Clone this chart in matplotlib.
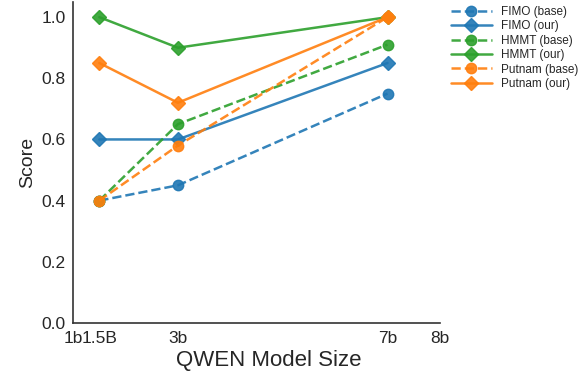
import matplotlib
matplotlib.use("Agg")
import matplotlib.pyplot as plt
import seaborn as sns

# model sizes (numeric positions on the x axis)
sizes = [1.5, 3, 7]
tick_pos = [1, 1.5, 3, 7, 8]
tick_labels = ["1b", "1.5B", "3b", "7b", "8b"]

fimo_base = [0.40, 0.45, 0.75]
fimo_our = [0.60, 0.60, 0.85]
hmmt_base = [0.40, 0.65, 0.91]
hmmt_our = [1.00, 0.90, 1.00]
putnam_base = [0.40, 0.58, 1.00]
putnam_our = [0.85, 0.72, 1.00]

sns.set_style("white")
plt.rcParams["font.family"] = ["Liberation Sans", "DejaVu Sans"]

fig = plt.figure(figsize=(5.85, 3.72), dpi=100)
ax = fig.add_axes([0.125, 0.132, 0.627, 0.863])

series = [
    ("FIMO", fimo_base, fimo_our, "#1f77b4"),
    ("HMMT", hmmt_base, hmmt_our, "#2ca02c"),
    ("Putnam", putnam_base, putnam_our, "#ff7f0e"),
]
for name, base, our, color in series:
    ax.plot(sizes, base, "--", marker="o", color=color, lw=1.8, ms=7.5,
            alpha=0.9, label=f"{name} (base)")
    ax.plot(sizes, our, "-", marker="D", color=color, lw=1.8, ms=7.5,
            alpha=0.9, label=f"{name} (our)")

ax.set_xlim(1, 8)
ax.set_ylim(0, 1.05)
ax.set_xticks(tick_pos)
ax.set_xticklabels(tick_labels)
ax.tick_params(labelsize=12.5, pad=2)
ax.set_xlabel("QWEN Model Size", fontsize=16, labelpad=2)
ax.xaxis.set_label_coords(0.534, -0.085)
ax.set_ylabel("Score", fontsize=14)
for s in ["left", "bottom"]:
    ax.spines[s].set_color("#333333")
    ax.spines[s].set_linewidth(1.2)
sns.despine(ax=ax)

ax.legend(loc="upper left", bbox_to_anchor=(1.0, 1.02), frameon=False,
          fontsize=8.5, handlelength=3.5, labelspacing=0.2)

fig.savefig("out.png", dpi=100)
